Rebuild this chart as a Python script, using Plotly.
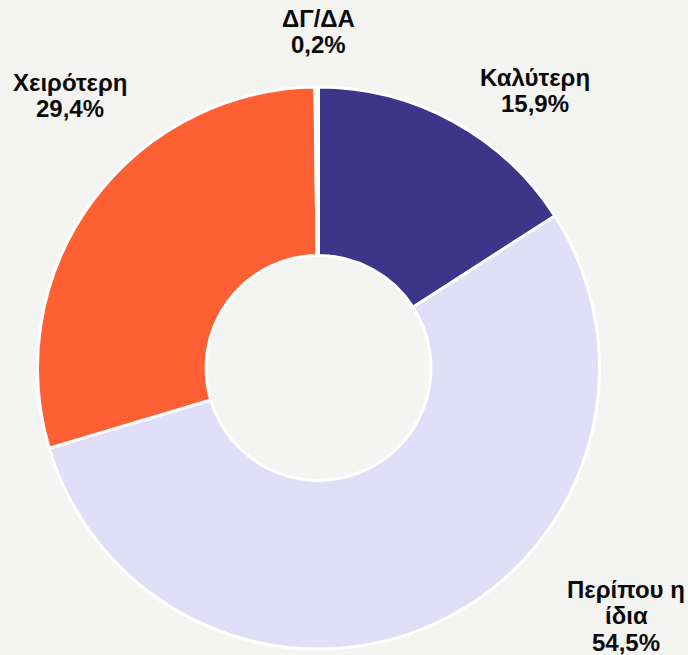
import plotly.graph_objects as go

categories = ["Καλύτερη", "Περίπου η ίδια", "Χειρότερη", "ΔΓ/ΔΑ"]
shares = [15.9, 54.5, 29.4, 0.2]
label_lines = [["Καλύτερη"], ["Περίπου η", "ίδια"], ["Χειρότερη"], ["ΔΓ/ΔΑ"]]
colors = ["#3D3589", "#E1DEF8", "#FF6033", "#FFFFFF"]

W, H = 688, 655
BG = "#F4F4F2"

fig = go.Figure(go.Pie(
    labels=categories,
    values=shares,
    hole=0.4,
    sort=False,
    direction="clockwise",
    rotation=0,
    textinfo="none",
    hoverinfo="none",
    marker=dict(colors=colors, line=dict(color="white", width=3)),
    domain=dict(x=[37.5 / W, 599.5 / W], y=[6 / H, 568 / H]),
))

# label anchor: centre x and middle of first line (pixels), tight line spacing
label_pos = [(535, 77), (626, 589), (70, 82), (318, 18)]
line_gap = 26.5
for lines, val, (px, py) in zip(label_lines, shares, label_pos):
    rows = lines + [f"{val:.1f}%".replace(".", ",")]
    for i, row in enumerate(rows):
        fig.add_annotation(
            text=f"<b>{row}</b>",
            x=px / W, y=1 - (py + i * line_gap) / H,
            xref="paper", yref="paper",
            xanchor="center", yanchor="middle", showarrow=False,
            font=dict(family="Liberation Sans, Arial", size=24, color="#0A0A0A"),
        )

fig.update_layout(
    width=W, height=H,
    margin=dict(l=0, r=0, t=0, b=0),
    paper_bgcolor=BG,
    plot_bgcolor=BG,
    showlegend=False,
)

# drop the default page margin so the figure sits at the window corner
fig.write_html(
    "out.html",
    config={"displayModeBar": False},
    post_script=f"document.body.style.margin='0';document.body.style.background='{BG}';",
)
